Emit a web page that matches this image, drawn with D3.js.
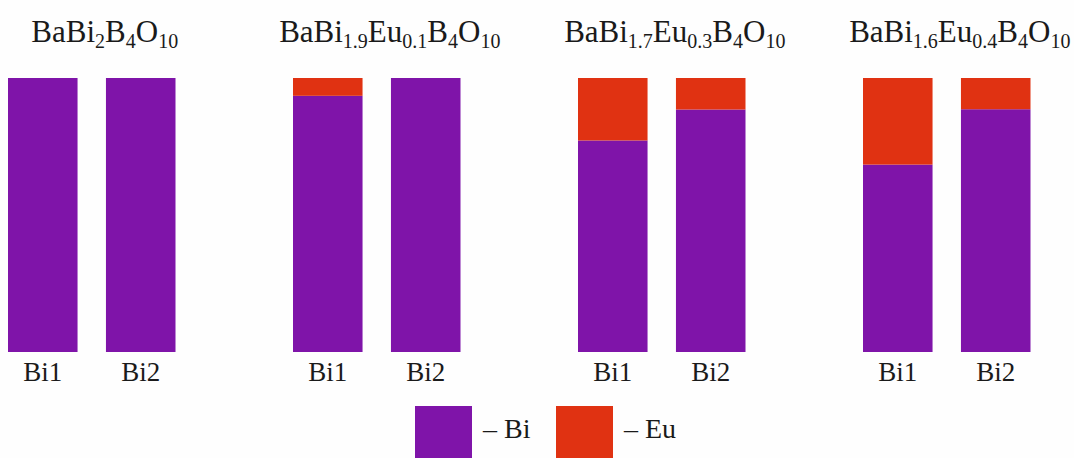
<!DOCTYPE html>
<html>
<head>
<meta charset="utf-8">
<script src="https://cdn.jsdelivr.net/npm/d3@7"></script>
<style>
  html, body { margin: 0; padding: 0; background: #fefefe; }
  svg { display: block; }
  text { font-family: "Liberation Serif", "Times New Roman", serif; fill: #1a1a1a; }
</style>
</head>
<body>
<svg id="chart" width="1074" height="458"></svg>
<script>
// ---- data ----
const groups = ["BaBi2B4O10", "BaBi1.9Eu0.1B4O10", "BaBi1.7Eu0.3B4O10", "BaBi1.6Eu0.4B4O10"];
// formula pieces: [text, isSubscript]
const titleParts = [
  [["BaBi", false], ["2", true], ["B", false], ["4", true], ["O", false], ["10", true]],
  [["BaBi", false], ["1.9", true], ["Eu", false], ["0.1", true], ["B", false], ["4", true], ["O", false], ["10", true]],
  [["BaBi", false], ["1.7", true], ["Eu", false], ["0.3", true], ["B", false], ["4", true], ["O", false], ["10", true]],
  [["BaBi", false], ["1.6", true], ["Eu", false], ["0.4", true], ["B", false], ["4", true], ["O", false], ["10", true]]
];
const sites = ["Bi1", "Bi2"];
// occupancy (%) of each site
const euBi1 = [0, 6.5, 22.8, 31.6];
const euBi2 = [0, 0, 11.5, 11.4];
const biBi1 = [100, 93.5, 77.2, 68.4];
const biBi2 = [100, 100, 88.5, 88.6];
const seriesNames = ["Bi", "Eu"];
const colors = ["#7f14a9", "#e03212"];

// ---- build rows ----
const rows = [];
groups.forEach((g, i) => {
  rows.push({group: g, site: "Bi1", Bi: biBi1[i], Eu: euBi1[i]});
  rows.push({group: g, site: "Bi2", Bi: biBi2[i], Eu: euBi2[i]});
});

const svg = d3.select("#chart");

const groupStart = d3.scaleBand().domain(groups).range([8, 8 + 4 * 285]).paddingInner(0).paddingOuter(0);
const x1 = d3.scaleBand().domain(sites).range([0, 167.5]).paddingInner(0.29).paddingOuter(0);
const groupWidth = 167.5;
const y = d3.scaleLinear().domain([0, 100]).range([352, 78]);
const color = d3.scaleOrdinal().domain(seriesNames).range(colors);

const stacked = d3.stack().keys(seriesNames)(rows);

const layer = svg.append("g").selectAll("g")
  .data(stacked).join("g")
  .attr("fill", d => color(d.key));

layer.selectAll("rect")
  .data(d => d)
  .join("rect")
  .attr("x", d => groupStart(d.data.group) + x1(d.data.site))
  .attr("width", x1.bandwidth())
  .attr("y", d => y(d[1]))
  .attr("height", d => y(d[0]) - y(d[1]));

// site labels
svg.append("g").selectAll("text")
  .data(rows).join("text")
  .attr("x", d => groupStart(d.group) + x1(d.site) + x1.bandwidth() / 2)
  .attr("y", 381)
  .attr("text-anchor", "middle")
  .attr("font-size", 27)
  .text(d => d.site);

// titles
const titles = svg.append("g").selectAll("text")
  .data(groups).join("text")
  .attr("x", g => groupStart(g) + groupWidth / 2 + 13)
  .attr("y", 42)
  .attr("text-anchor", "middle")
  .attr("font-size", 31);

titles.each(function(g, i) {
  const t = d3.select(this);
  let shifted = false;
  titleParts[i].forEach(([txt, sub]) => {
    const ts = t.append("tspan").text(txt);
    if (sub) {
      ts.attr("font-size", 20).attr("dy", shifted ? 0 : 6);
      shifted = true;
    } else {
      ts.attr("dy", shifted ? -6 : 0);
      shifted = false;
    }
  });
});

// legend
const legend = svg.append("g").selectAll("g")
  .data(seriesNames).join("g")
  .attr("transform", (d, i) => `translate(${415 + i * 141},406)`);
legend.append("rect")
  .attr("width", 57).attr("height", 60)
  .attr("fill", d => color(d));
legend.append("text")
  .attr("x", 68).attr("y", 32)
  .attr("font-size", 28)
  .text(d => "\u2013 " + d);
</script>
</body>
</html>
